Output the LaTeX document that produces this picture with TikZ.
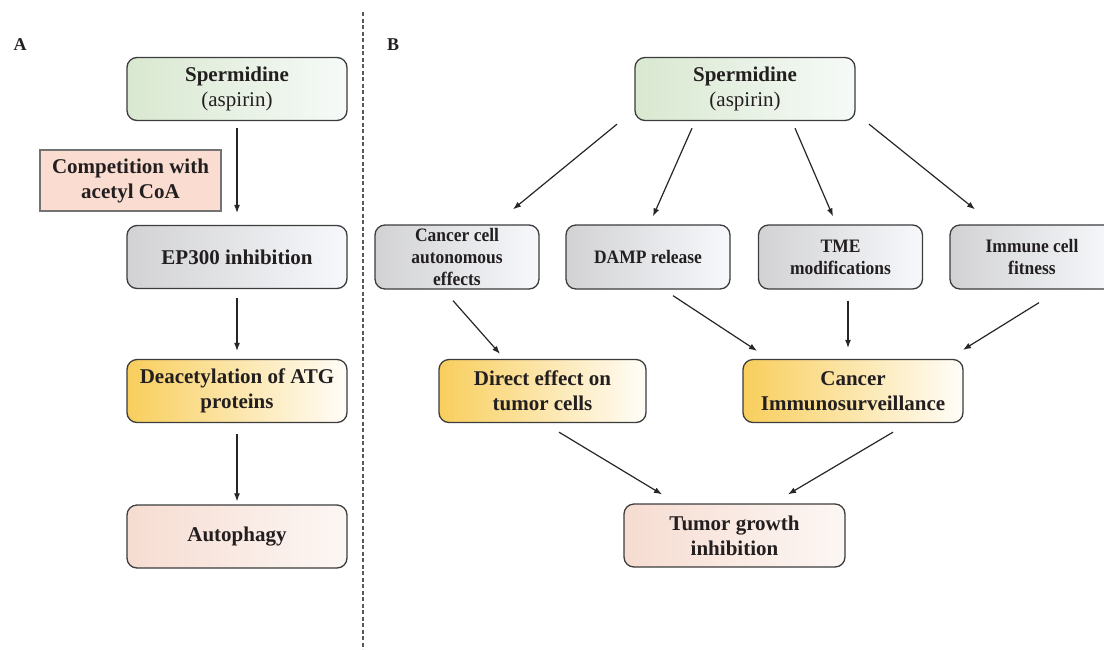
\documentclass[tikz,border=0pt]{standalone}
\usepackage{fontspec}
\setmainfont{Liberation Serif}
\newfontfamily\narrowserif[FakeStretch=0.92]{Liberation Serif}
\usepackage{xcolor}
\definecolor{cLine}{HTML}{3C3C3C}
\definecolor{cText}{HTML}{231F20}
\definecolor{cGreenL}{HTML}{D9E8D0}
\definecolor{cGreenR}{HTML}{F6FAF8}
\definecolor{cGrayL}{HTML}{D2D2D4}
\definecolor{cGrayR}{HTML}{F6F8FB}
\definecolor{cGoldL}{HTML}{F8CE5C}
\definecolor{cGoldM}{HTML}{FBE9BE}
\definecolor{cGoldR}{HTML}{FFFDF9}
\definecolor{cPinkL}{HTML}{F6DCD1}
\definecolor{cPinkR}{HTML}{FCF7F4}
\definecolor{cPinkFlat}{HTML}{FADDD0}
\usepackage{tikz}
\usetikzlibrary{arrows.meta}
\tikzset{
  node-box/.style={draw=cLine,line width=1.3pt,rounded corners=10pt,
    minimum width=220pt,minimum height=63pt,inner sep=2pt,align=center,
    text=cText,font=\fontsize{21}{25}\selectfont\bfseries},
  node-small/.style={node-box,minimum width=164pt,minimum height=64pt,
    font=\narrowserif\fontsize{19}{22}\selectfont\bfseries},
  node-green/.style={left color=cGreenL,right color=cGreenR},
  node-gray/.style={left color=cGrayL,right color=cGrayR},
  node-gold/.style={left color=cGoldL,middle color=cGoldM,right color=cGoldR},
  node-pink/.style={left color=cPinkL,right color=cPinkR},
  node-note/.style={draw=black!55,line width=1.2pt,fill=cPinkFlat,
    minimum width=181pt,minimum height=61pt,inner sep=2pt,align=center,
    text=cText,font=\fontsize{21}{25}\selectfont\bfseries},
  panel-label/.style={text=cText,font=\fontsize{18}{18}\selectfont\bfseries},
  arrow/.style={-{Latex[length=8pt,width=6pt]},line width=1.2pt,draw=black!85},
  divider/.style={dashed,dash pattern=on 4pt off 2.5pt,line width=1.4pt,draw=black!65},
}

\begin{document}
\begin{tikzpicture}[x=1pt,y=-1pt]
  \useasboundingbox (0,0) rectangle (1104,649);
  \clip (0,0) rectangle (1104,649);

  % panel A
  \node[panel-label] (labA) at (20,45) {A};
  \node[node-box,node-green] (spA) at (237,89) {Spermidine\\\mdseries(aspirin)};
  \node[node-note] (comp) at (130.5,180.5) {Competition with\\acetyl CoA};
  \node[node-box,node-gray] (ep) at (237,257) {EP300 inhibition};
  \node[node-box,node-gold] (deac) at (237,391) {Deacetylation of ATG\\proteins};
  \node[node-box,node-pink] (auto) at (237,536.5) {Autophagy};

  \draw[arrow] ([yshift=-7pt]spA.south) -- ([yshift=12pt]ep.north);
  \draw[arrow] ([yshift=-9pt]ep.south) -- ([yshift=8pt]deac.north);
  \draw[arrow] ([yshift=-11pt]deac.south) -- ([yshift=3pt]auto.north);

  \coordinate (divTop) at (363,12);
  \coordinate (divBot) at (363,649);
  \draw[divider] (divTop) -- (divBot);

  % panel B
  \node[panel-label] (labB) at (393,45) {B};
  \node[node-box,node-green] (spB) at (745,89) {Spermidine\\\mdseries(aspirin)};
  \node[node-small,node-gray] (cancer) at (457,257) {Cancer cell\\autonomous\\effects};
  \node[node-small,node-gray] (damp) at (648,257) {DAMP release};
  \node[node-small,node-gray] (tme) at (840.5,257) {TME\\modifications};
  \node[node-small,node-gray] (immune) at (1032,257) {Immune cell\\fitness};
  \node[node-box,node-gold,minimum width=207pt] (direct) at (542.5,391) {Direct effect on\\tumor cells};
  \node[node-box,node-gold] (immuno) at (853,391) {Cancer\\Immunosurveillance};
  \node[node-box,node-pink,minimum width=221pt] (tumor) at (734.5,535.5) {Tumor growth\\inhibition};

  \draw[arrow] ([xshift=-128pt,yshift=-3pt]spB.south) -- ([xshift=56pt,yshift=15pt]cancer.north);
  \draw[arrow] ([xshift=-53pt,yshift=-7pt]spB.south) -- ([xshift=5pt,yshift=8pt]damp.north);
  \draw[arrow] ([xshift=50pt,yshift=-7pt]spB.south) -- ([xshift=-7.5pt,yshift=8pt]tme.north);
  \draw[arrow] ([xshift=124pt,yshift=-3pt]spB.south) -- ([xshift=-57pt,yshift=15pt]immune.north);
  \draw[arrow] ([xshift=-4pt,yshift=-11pt]cancer.south) -- ([xshift=-42.5pt,yshift=5pt]direct.north);
  \draw[arrow] ([xshift=25pt,yshift=-6pt]damp.south) -- ([xshift=-96pt,yshift=8pt]immuno.north);
  \draw[arrow] ([xshift=7.5pt,yshift=-11pt]tme.south) -- ([xshift=-5pt,yshift=11pt]immuno.north);
  \draw[arrow] ([xshift=7pt,yshift=-13pt]immune.south) -- ([xshift=110pt,yshift=9pt]immuno.north);
  \draw[arrow] ([xshift=16.5pt,yshift=-9pt]direct.south) -- ([xshift=-72.5pt,yshift=9pt]tumor.north);
  \draw[arrow] ([xshift=40pt,yshift=-9pt]immuno.south) -- ([xshift=53.5pt,yshift=9pt]tumor.north);
\end{tikzpicture}
\end{document}
